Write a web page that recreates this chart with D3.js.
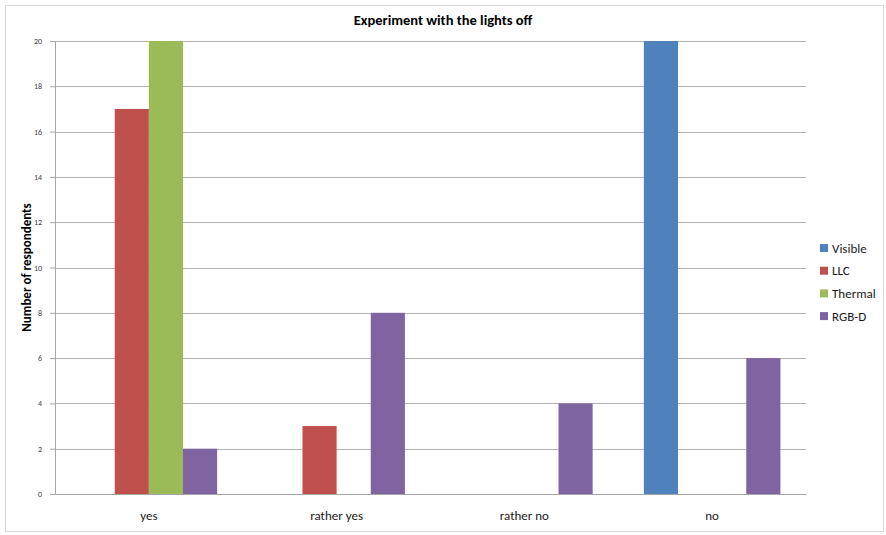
<!DOCTYPE html>
<html>
<head>
<meta charset="utf-8">
<script src="https://cdn.jsdelivr.net/npm/d3@7"></script>
<style>
  body { margin: 0; background: #fff; overflow: hidden; }
  svg { display: block; }
  text { font-family: Carlito, "Open Sans", "Liberation Sans", sans-serif; }
</style>
</head>
<body>
<div id="chart"></div>
<script>
// Experiment with the lights off - grouped bars

const categories = ["yes", "rather yes", "rather no", "no"];
const seriesNames = ["Visible", "LLC", "Thermal", "RGB-D"];
const visible = [0, 0, 0, 20];
const llc = [17, 3, 0, 0];
const thermal = [20, 0, 0, 0];
const rgbd = [2, 8, 4, 6];
const yTicks = [0, 2, 4, 6, 8, 10, 12, 14, 16, 18, 20];
const colors = ["#4f81bd", "#c0504d", "#9bbb59", "#8064a2"];

const width = 886;
const height = 535;
const margin = {top: 41, right: 80, bottom: 41, left: 55};

const svg = d3.select("#chart")
    .append("svg")
    .attr("width", width)
    .attr("height", height);

// outer chart frame
svg.append("rect")
    .attr("x", 5.5).attr("y", 5.5)
    .attr("width", 878).attr("height", 526)
    .attr("fill", "#fff")
    .attr("stroke", "#d9d9d9");

const innerWidth = 806 - margin.left;
const innerHeight = 494 - margin.top;

const inner = svg.append("g")
    .attr("transform", `translate(${margin.left}, ${margin.top})`);

const table = categories.map((c, i) => ({
    category: c,
    values: [visible[i], llc[i], thermal[i], rgbd[i]]
}));

const x0 = d3.scaleBand()
    .domain(categories)
    .range([0, innerWidth]);

const groupWidth = x0.bandwidth() * 4 / 5.5;
const x1 = d3.scaleBand()
    .domain(seriesNames)
    .range([0, groupWidth]);

const y = d3.scaleLinear()
    .domain([0, 20])
    .range([innerHeight, 0]);

// gridlines
inner.append("g")
    .selectAll("line")
    .data(yTicks)
    .join("line")
    .attr("x1", 0)
    .attr("x2", innerWidth)
    .attr("y1", d => Math.round(y(d)) + 0.5)
    .attr("y2", d => Math.round(y(d)) + 0.5)
    .attr("stroke", "#b3b3b3");

// y axis
const yAxis = inner.append("g")
    .call(d3.axisLeft(y).tickValues(yTicks).tickSize(5).tickPadding(8));
yAxis.select(".domain").attr("stroke", "#a6a6a6").attr("d", `M0.5,0V${innerHeight}`);
yAxis.selectAll(".tick line").attr("stroke", "#a6a6a6");
yAxis.selectAll("text")
    .attr("fill", "#404040")
    .style("font-size", "8px");

// x axis
const xAxis = inner.append("g")
    .attr("transform", `translate(0, ${innerHeight})`)
    .call(d3.axisBottom(x0).tickSize(0).tickPadding(17));
xAxis.select(".domain").attr("stroke", "#a6a6a6");
xAxis.selectAll("text")
    .attr("fill", "#1a1a1a")
    .style("font-size", "13px");

// bars
inner.append("g")
    .selectAll("g")
    .data(table)
    .join("g")
    .attr("transform", d => `translate(${x0(d.category) + (x0.bandwidth() - groupWidth) / 2}, 0)`)
    .selectAll("rect")
    .data(d => d.values.map((v, i) => ({name: seriesNames[i], value: v})))
    .join("rect")
    .attr("x", d => x1(d.name))
    .attr("y", d => y(d.value))
    .attr("width", x1.bandwidth())
    .attr("height", d => innerHeight - y(d.value))
    .attr("fill", (d, i) => colors[i]);

// title
svg.append("text")
    .attr("x", 443)
    .attr("y", 25)
    .attr("text-anchor", "middle")
    .style("font-size", "14.5px")
    .style("font-weight", "bold")
    .attr("fill", "#000")
    .text("Experiment with the lights off");

// y axis title
svg.append("text")
    .attr("transform", `translate(31, ${margin.top + innerHeight / 2}) rotate(-90)`)
    .attr("text-anchor", "middle")
    .style("font-size", "13px")
    .style("font-weight", "bold")
    .attr("fill", "#000")
    .text("Number of respondents");

// legend
const legend = svg.append("g")
    .attr("transform", "translate(820, 248)");

const items = legend.selectAll("g")
    .data(seriesNames)
    .join("g")
    .attr("transform", (d, i) => `translate(0, ${i * 22.7})`);

items.append("rect")
    .attr("x", 0).attr("y", -4)
    .attr("width", 8).attr("height", 8)
    .attr("fill", (d, i) => colors[i]);

items.append("text")
    .attr("x", 12)
    .attr("y", 4.5)
    .style("font-size", "13px")
    .attr("fill", "#1a1a1a")
    .text(d => d);
</script>
</body>
</html>
